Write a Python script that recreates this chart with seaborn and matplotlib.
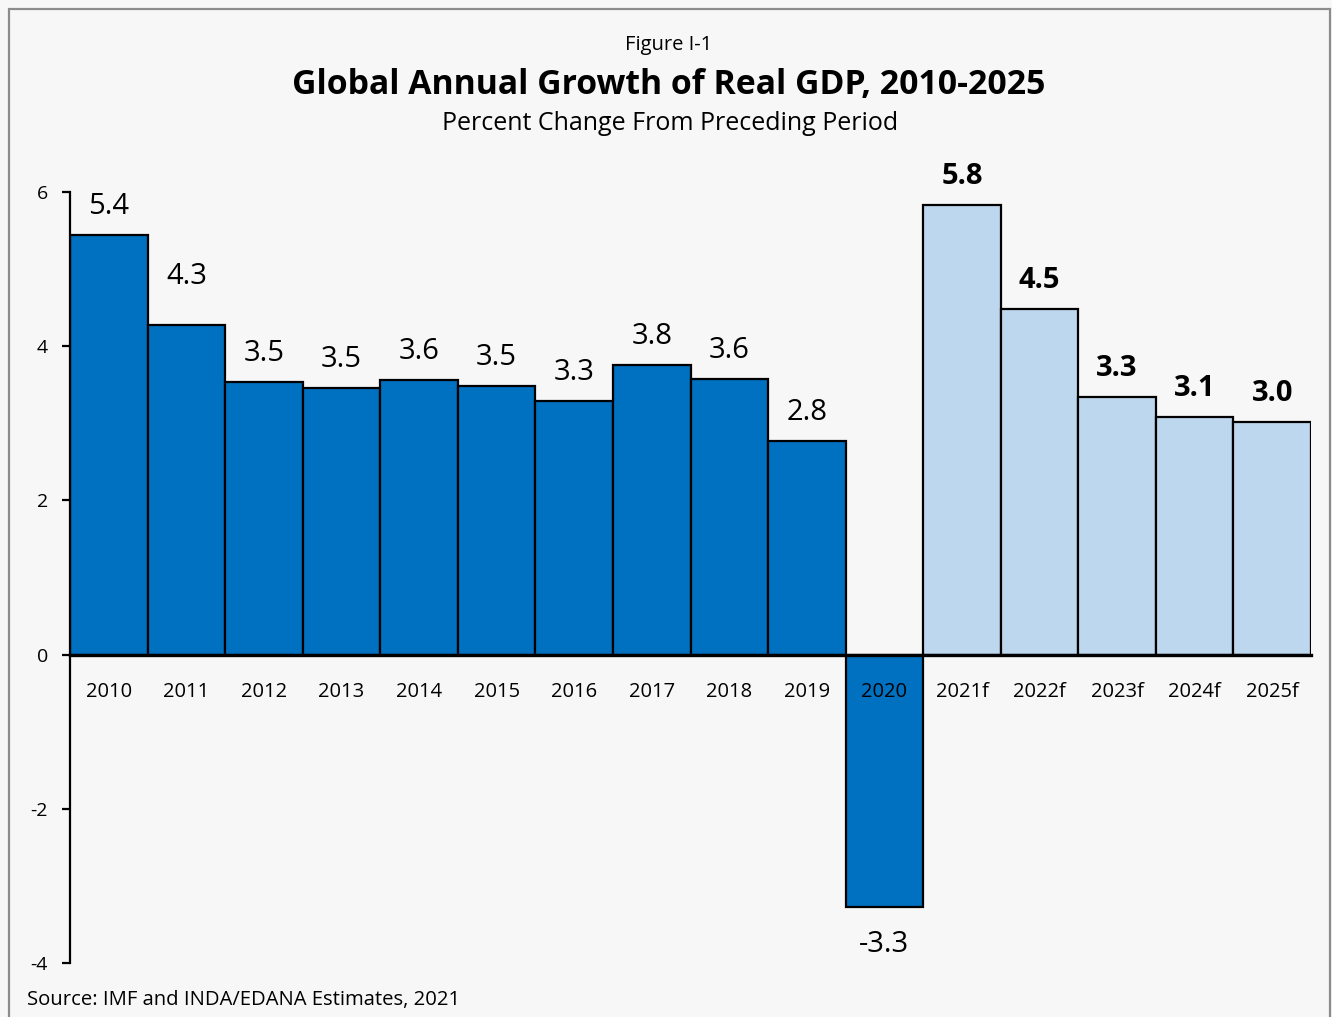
import matplotlib
matplotlib.use("Agg")
import matplotlib.pyplot as plt
from matplotlib.patches import Rectangle
import seaborn as sns
import pandas as pd

years = ["2010", "2011", "2012", "2013", "2014", "2015", "2016", "2017",
         "2018", "2019", "2020", "2021f", "2022f", "2023f", "2024f", "2025f"]
growth = [5.44, 4.28, 3.54, 3.46, 3.56, 3.49, 3.29, 3.76,
          3.58, 2.77, -3.27, 5.83, 4.48, 3.34, 3.08, 3.02]
kind = ["Actual"] * 11 + ["Forecast"] * 5
y_ticks = [-4, -2, 0, 2, 4, 6]

title_top = "Figure I-1"
title_main = "Global Annual Growth of Real GDP, 2010-2025"
subtitle = "Percent Change From Preceding Period"
source = "Source: IMF and INDA/EDANA Estimates, 2021"

df = pd.DataFrame({"year": years, "growth": growth, "kind": kind})

sns.set_theme(style="white")
plt.rcParams["font.family"] = ["Open Sans", "DejaVu Sans"]
plt.rcParams["text.color"] = "black"
plt.rcParams["axes.axisbelow"] = False
plt.rcParams["axes.unicode_minus"] = False
BG = "#f7f7f7"

fig = plt.figure(figsize=(13.32, 10.17), dpi=100, facecolor=BG)
ax = fig.add_axes([70 / 1332, 1 - 963 / 1017, (1311 - 70) / 1332, (963 - 192) / 1017])
ax.set_facecolor(BG)
ax.set_axisbelow(False)

sns.barplot(data=df, x="year", y="growth", hue="kind",
            palette={"Actual": "#0070C0", "Forecast": "#BDD7EE"},
            saturation=1, dodge=False, width=1.0, edgecolor="black", linewidth=1.6,
            legend=False, ax=ax)

ax.set_xlim(-0.5, len(years) - 0.5)
ax.set_ylim(-4, 6)
ax.set_yticks(y_ticks)
ax.set_xlabel("")
ax.set_ylabel("")

for s in ["top", "right"]:
    ax.spines[s].set_visible(False)
ax.spines["bottom"].set_position(("data", 0))
ax.spines["bottom"].set_linewidth(2.4)
ax.spines["left"].set_linewidth(1.6)
ax.spines["bottom"].set_color("black")
ax.spines["left"].set_color("black")
ax.spines["bottom"].set_zorder(3)
ax.spines["left"].set_zorder(3)

ax.tick_params(axis="x", length=0, pad=20, labelsize=14.5, colors="black")
ax.tick_params(axis="y", length=6, width=1.6, direction="out", left=True,
               pad=10, labelsize=14, colors="black")
for t in ax.get_xticklabels() + ax.get_yticklabels():
    t.set_zorder(5)

# data labels
for i, (v, k) in enumerate(zip(growth, kind)):
    if v >= 0:
        off = 20.5 if years[i] != "2011" else 35
    else:
        off = -27
    ax.annotate(f"{v:.1f}", xy=(i, v), xytext=(0, off), textcoords="offset points",
                ha="center", va="center", fontsize=21,
                fontweight="bold" if k == "Forecast" else "normal", color="black")

fig.text(0.502, 1 - 45 / 1017, title_top, ha="center", va="center", fontsize=14.5,
         color="black")
fig.text(0.502, 1 - 85 / 1017, title_main, ha="center", va="center", fontsize=24.3,
         fontweight="bold", color="black")
fig.text(0.503, 1 - 124 / 1017, subtitle, ha="center", va="center", fontsize=18,
         color="black")
fig.text(27 / 1332, 1 - 1000 / 1017, source, ha="left", va="center", fontsize=14.6,
         color="black")

fig.patches.append(Rectangle((8.5 / 1332, -0.05), (1330 - 8.5) / 1332, 1.05 - 8.5 / 1017,
                             transform=fig.transFigure, fill=False,
                             edgecolor="#8c8c8c", linewidth=1.6))

fig.savefig("out.png", dpi=100, facecolor=BG)
